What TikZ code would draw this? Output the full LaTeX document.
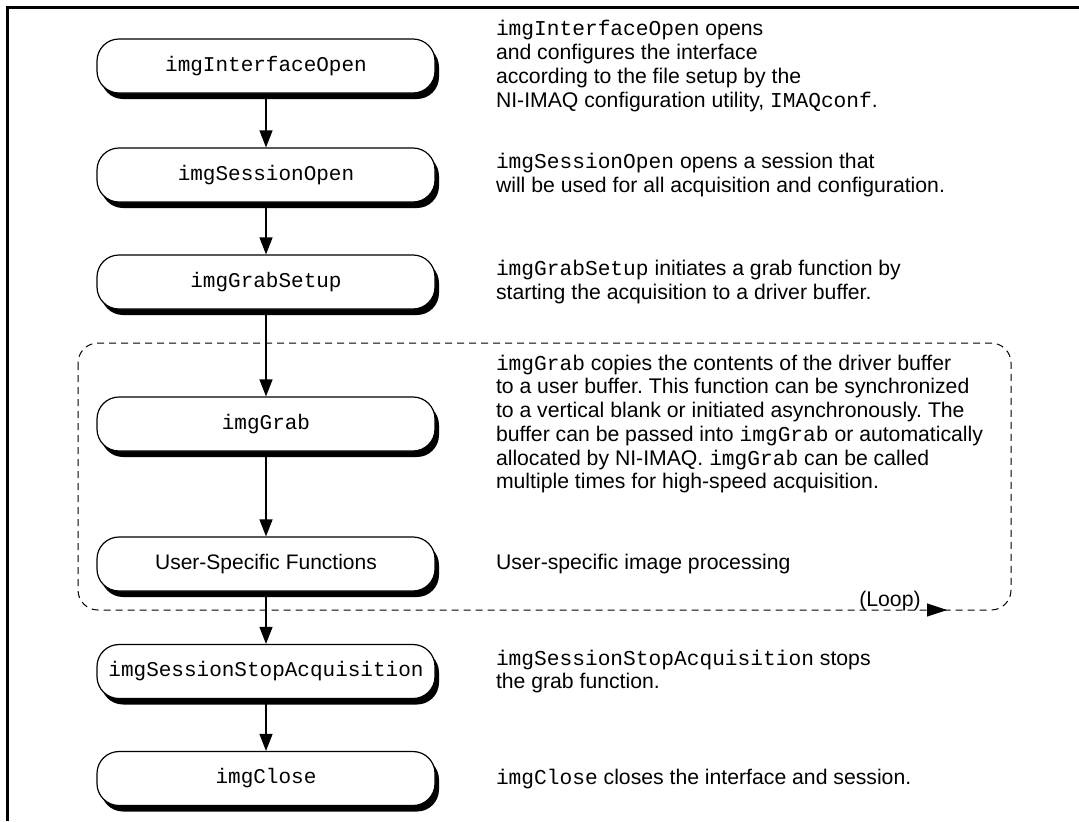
\documentclass[tikz,border=0pt]{standalone}
\usepackage{fontspec}
\setmainfont{Liberation Sans}
\setmonofont{Liberation Mono}
\usetikzlibrary{arrows.meta,positioning,shadows}
\frenchspacing

\begin{document}
\begin{tikzpicture}[x=0.5pt,y=-0.5pt,
  func/.style={rounded corners=11pt,draw,line width=0.6pt,fill=white,minimum width=169pt,minimum height=27pt,inner sep=0pt,
    font=\ttfamily\fontsize{10.5}{11.85}\selectfont,
    drop shadow={shadow xshift=2pt,shadow yshift=-3pt,fill=black,opacity=1}},
  note/.style={align=left,inner sep=0pt,font=\fontsize{10.6}{11.85}\selectfont},
  edge/.style={line width=0.6pt,-{Triangle[length=8.5pt,width=6.5pt]}},
  loopline/.style={line width=0.5pt,dash pattern=on 3.5pt off 2.5pt,rounded corners=10pt}]
\useasboundingbox (0,0) rectangle (1079,821);
\draw [line width=1.5pt] (1079,7) -- (7,7) -- (7,821);
% loop region
\coordinate (loopnw) at (78,343);
\coordinate (loopse) at (1011,610);
\draw [loopline] (loopnw) rectangle (loopse);
\coordinate (loopa) at (932,610);
\coordinate (loopb) at (947,610);
\draw [-{Triangle[length=10pt,width=6.5pt]}] (loopa) -- (loopb);
\node (looplabel)[note,anchor=base east] at (921,606) {(Loop)};
% functions
\node (open)[func] at (266,66) {imgInterfaceOpen};
\node (session)[func] at (266,175) {imgSessionOpen};
\node (setup)[func] at (266,282) {imgGrabSetup};
\node (grab)[func] at (266,424) {imgGrab};
\node (user)[func,font=\fontsize{10.5}{11.85}\selectfont] at (266,564) {User-Specific Functions};
\node (stop)[func] at (266,671.5) {imgSessionStopAcquisition};
\node (close)[func] at (266,778.5) {imgClose};
% descriptions
\node (openinfo)[note,right=30pt of open] {\texttt{imgInterfaceOpen} opens\\and configures the interface\\according to the file setup by the\\NI-IMAQ configuration utility, \texttt{IMAQconf}.};
\node (sessioninfo)[note,right=30pt of session] {\texttt{imgSessionOpen} opens a session that\\will be used for all acquisition and configuration.};
\node (setupinfo)[note,right=30pt of setup] {\texttt{imgGrabSetup} initiates a grab function by\\starting the acquisition to a driver buffer.};
\node (grabinfo)[note,right=30pt of grab] {\texttt{imgGrab} copies the contents of the driver buffer\\to a user buffer. This function can be synchronized\\to a vertical blank or initiated asynchronously. The\\buffer can be passed into \texttt{imgGrab} or automatically\\allocated by NI-IMAQ. \texttt{imgGrab} can be called\\multiple times for high-speed acquisition.};
\node (userinfo)[note,right=30pt of user] {User-specific image processing};
\node (stopinfo)[note,right=30pt of stop] {\texttt{imgSessionStopAcquisition} stops\\the grab function.};
\node (closeinfo)[note,right=30pt of close] {\texttt{imgClose} closes the interface and session.};
\draw [edge] (open) to (session);
\draw [edge] (session) to (setup);
\draw [edge] (setup) to (grab);
\draw [edge] (grab) to (user);
\draw [edge] (user) to (stop);
\draw [edge] (stop) to (close);
\end{tikzpicture}
\end{document}
